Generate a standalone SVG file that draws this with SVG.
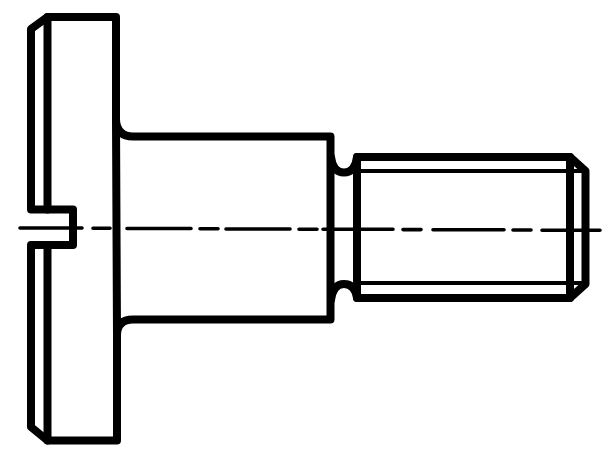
<svg xmlns="http://www.w3.org/2000/svg" width="608" height="459" viewBox="0 0 608 459">
<style>
path{fill:none;stroke:#000;stroke-linejoin:round;stroke-linecap:round}
.t{stroke-width:8}
.m{stroke-width:4}
.c{stroke-width:3.6}
</style>
<rect width="608" height="459" fill="#fff"/>
<g id="head">
<path class="t" d="M31 209.500V29L47.500 17H116V120Q117 136.500 133 136.500H330.500V319.500H133Q117 319.500 117 335V440.500H47.500L31 427V245H73V209.500Z"/>
<path class="t" d="M47.500 17V209.500M47.500 245V440.500M116 120L117 335"/>
</g>
<g id="thread">
<path class="t" d="M331 157Q333 172.500 344 172.500Q355 172.500 357 157M331 300Q333 284 344 284Q355 284 357 298"/>
<path class="t" d="M357 157H570L585.500 171V284L570 298H357Z"/>
<path class="t" d="M570 157V298"/>
<path class="m" d="M357 171H585M357 283H585"/>
</g>
<g id="centerline">
<path class="c" d="M20 228H82M93 228.300H110M127 228.500H191M200 228.700H218M226 229H290M299 229.200H317M323 229.300H393M403 229.600H421M433 229.800H504M513 230H531M542 230.200H600"/>
</g>
</svg>
